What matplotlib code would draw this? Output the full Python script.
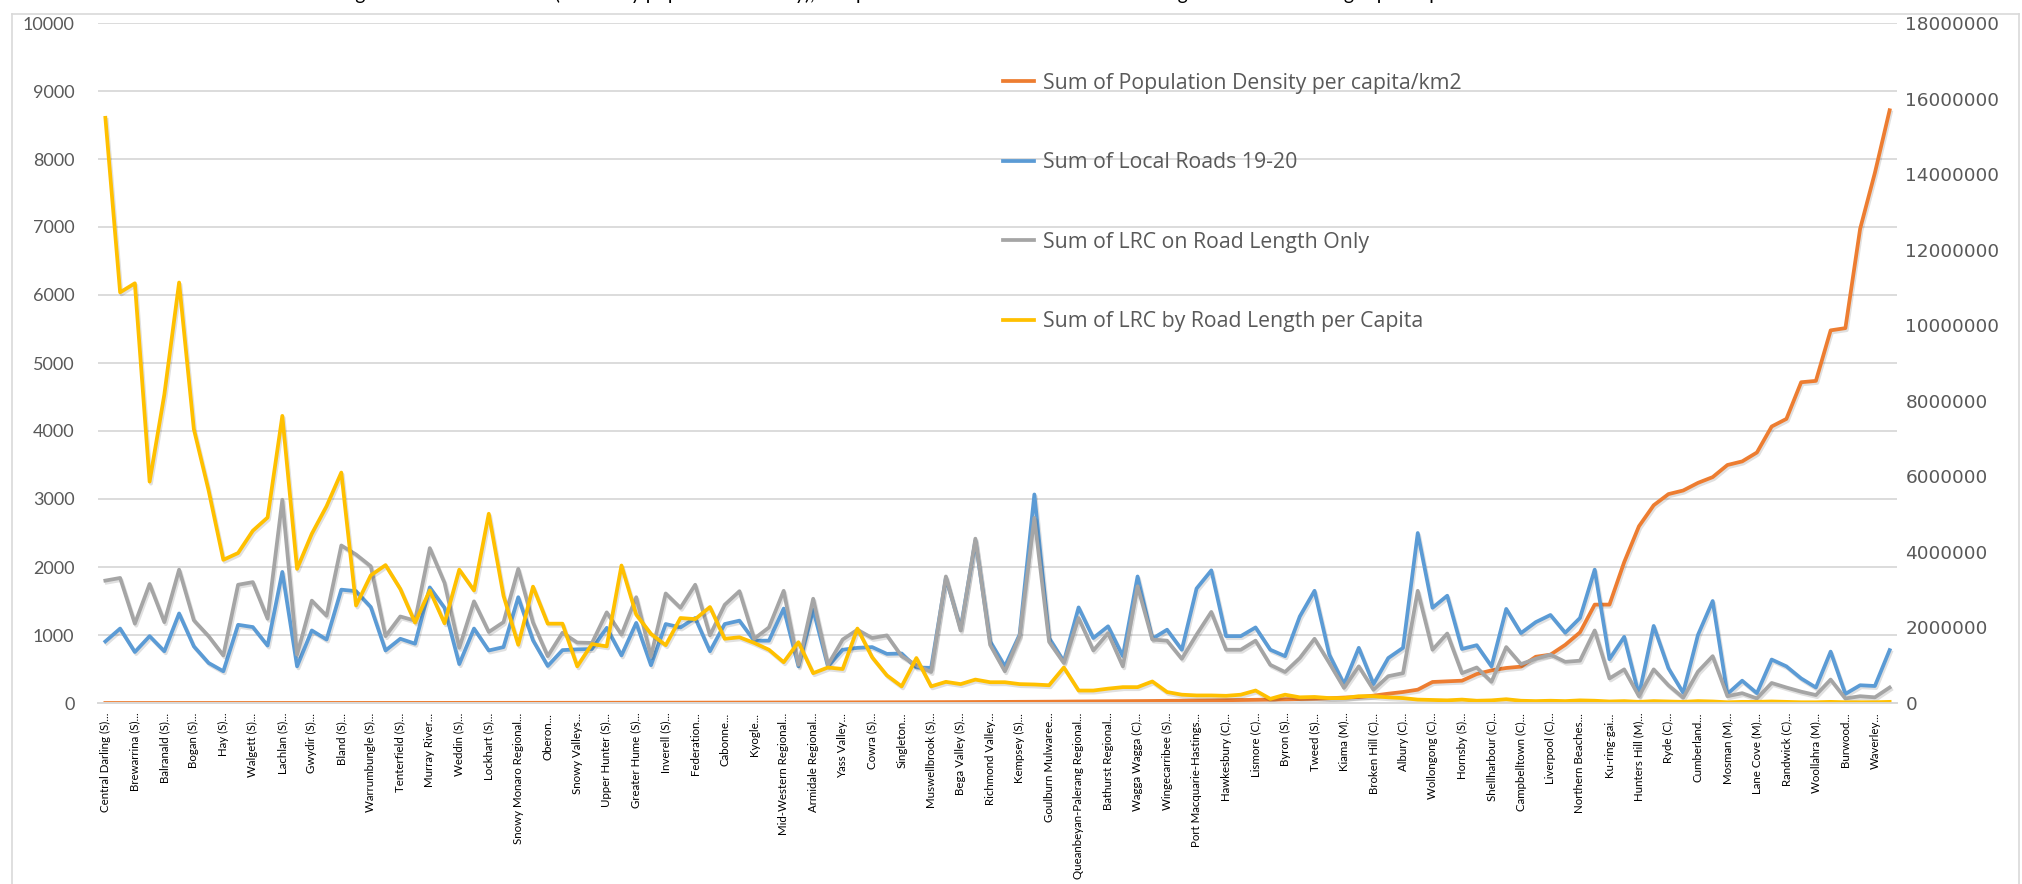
import numpy as np
import matplotlib.pyplot as plt
import matplotlib.patheffects as pe
from matplotlib.lines import Line2D

plt.rcParams['font.family'] = ['Lato', 'DejaVu Sans']

# councils shown on the category axis (every second council is labelled)
councils = ['Central Darling (S)...', 'Brewarrina (S)...', 'Balranald (S)...', 'Bogan (S)...', 'Hay (S)...',
            'Walgett (S)...', 'Lachlan (S)...', 'Gwydir (S)...', 'Bland (S)...', 'Warrumbungle (S)...',
            'Tenterfield (S)...', 'Murray River...', 'Weddin (S)...', 'Lockhart (S)...',
            'Snowy Monaro Regional...', 'Oberon...', 'Snowy Valleys...', 'Upper Hunter (S)...',
            'Greater Hume (S)...', 'Inverell (S)...', 'Federation...', 'Cabonne...', 'Kyogle...',
            'Mid-Western Regional...', 'Armidale Regional...', 'Yass Valley...', 'Cowra (S)...',
            'Singleton...', 'Muswellbrook (S)...', 'Bega Valley (S)...', 'Richmond Valley...',
            'Kempsey (S)...', 'Goulburn Mulwaree...', 'Queanbeyan-Palerang Regional...',
            'Bathurst Regional...', 'Wagga Wagga (C)...', 'Wingecarribee (S)...',
            'Port Macquarie-Hastings...', 'Hawkesbury (C)...', 'Lismore (C)...', 'Byron (S)...',
            'Tweed (S)...', 'Kiama (M)...', 'Broken Hill (C)...', 'Albury (C)...', 'Wollongong (C)...',
            'Hornsby (S)...', 'Shellharbour (C)...', 'Campbelltown (C)...', 'Liverpool (C)...',
            'Northern Beaches...', 'Ku-ring-gai...', 'Hunters Hill (M)...', 'Ryde (C)...',
            'Cumberland...', 'Mosman (M)...', 'Lane Cove (M)...', 'Randwick (C)...', 'Woollahra (M)...',
            'Burwood...', 'Waverley...']

# population density (per km2), primary axis
density = [0.03, 0.09, 0.11, 0.2, 0.26, 0.3, 0.38, 0.4, 0.46, 0.5, 0.59, 0.62, 0.69, 0.76, 0.84, 0.92, 1.0, 1.1,
           1.2, 1.3, 1.35, 1.5, 1.6, 1.7, 1.9, 2.0, 2.1, 2.3, 2.5, 2.6, 2.8, 3.0, 3.2, 3.4, 3.6, 3.9, 4.1, 4.4,
           4.7, 5.0, 5.3, 5.6, 6.0, 6.4, 6.8, 7.1, 7.5, 8.0, 8.4, 8.8, 9.2, 9.7, 10.2, 10.8, 11.3, 11.9, 12.6,
           13.2, 14.0, 14.8, 15.6, 16.5, 17.4, 18.3, 19.5, 21, 22.5, 24, 25.6, 27, 28.5, 30, 32, 34, 36, 38,
           41, 44, 47, 50, 54, 58, 63, 70, 80, 88, 108, 137, 162, 196, 309, 319, 328, 426, 480, 515, 535,
           680, 711, 855, 1039, 1447, 1447, 2072, 2599, 2908, 3072, 3125, 3237, 3322, 3500, 3553, 3684,
           4066, 4178, 4717, 4737, 5480, 5513, 6974, 7796, 8717]

# grant amounts in $ millions, secondary axis
local_roads = [1.63, 1.97, 1.35, 1.77, 1.37, 2.37, 1.50, 1.06, 0.84, 2.07, 2.01, 1.52, 3.47, 0.97, 1.92, 1.68,
               3.00, 2.96, 2.54, 1.39, 1.70, 1.57, 3.06, 2.52, 1.03, 1.97, 1.39, 1.48, 2.80, 1.66, 0.98, 1.40,
               1.42, 1.43, 1.99, 1.26, 2.12, 1.00, 2.09, 2.00, 2.25, 1.37, 2.09, 2.18, 1.65, 1.65, 2.50, 0.97,
               2.47, 0.97, 1.41, 1.46, 1.48, 1.30, 1.31, 0.94, 0.93, 3.31, 1.97, 4.30, 1.63, 0.97, 1.81, 5.52,
               1.72, 1.10, 2.53, 1.72, 2.03, 1.24, 3.35, 1.70, 1.94, 1.41, 3.03, 3.51, 1.77, 1.77, 2.00, 1.41,
               1.24, 2.29, 2.97, 1.28, 0.50, 1.46, 0.50, 1.19, 1.46, 4.50, 2.52, 2.84, 1.43, 1.53, 0.97, 2.49,
               1.85, 2.14, 2.33, 1.86, 2.25, 3.53, 1.16, 1.75, 0.21, 2.04, 0.92, 0.27, 1.80, 2.70, 0.24, 0.59,
               0.26, 1.15, 0.97, 0.65, 0.41, 1.36, 0.24, 0.47, 0.45, 1.40]
lrc_length = [3.24, 3.31, 2.10, 3.15, 2.14, 3.53, 2.19, 1.77, 1.26, 3.13, 3.20, 2.23, 5.38, 1.28, 2.71, 2.31,
              4.17, 3.93, 3.62, 1.77, 2.29, 2.18, 4.10, 3.18, 1.46, 2.69, 1.88, 2.14, 3.55, 2.13, 1.24, 1.86,
              1.60, 1.59, 2.40, 1.81, 2.80, 1.24, 2.90, 2.52, 3.13, 1.79, 2.60, 2.96, 1.70, 2.00, 2.97, 1.01,
              2.76, 1.01, 1.68, 1.94, 1.72, 1.79, 1.24, 1.00, 0.82, 3.35, 1.92, 4.35, 1.54, 0.84, 1.77, 4.90,
              1.62, 1.06, 2.25, 1.39, 1.85, 0.97, 3.09, 1.68, 1.65, 1.17, 1.81, 2.41, 1.41, 1.41, 1.65, 1.01,
              0.82, 1.19, 1.70, 1.06, 0.40, 0.97, 0.35, 0.71, 0.79, 2.97, 1.41, 1.84, 0.79, 0.94, 0.56, 1.48,
              1.03, 1.17, 1.28, 1.09, 1.12, 1.92, 0.65, 0.89, 0.18, 0.89, 0.47, 0.14, 0.83, 1.24, 0.18, 0.26,
              0.12, 0.53, 0.41, 0.30, 0.21, 0.62, 0.12, 0.18, 0.15, 0.41]
lrc_per_capita = [15.49, 10.87, 11.11, 5.86, 8.17, 11.13, 7.25, 5.63, 3.79, 3.97, 4.56, 4.91, 7.60, 3.55, 4.48,
                  5.21, 6.10, 2.58, 3.38, 3.65, 3.02, 2.13, 2.98, 2.11, 3.53, 2.98, 5.01, 2.84, 1.54, 3.08,
                  2.10, 2.10, 0.97, 1.56, 1.50, 3.64, 2.34, 1.83, 1.53, 2.25, 2.22, 2.54, 1.70, 1.74, 1.59,
                  1.41, 1.08, 1.61, 0.79, 0.94, 0.90, 1.97, 1.21, 0.73, 0.44, 1.19, 0.44, 0.56, 0.50, 0.62,
                  0.55, 0.55, 0.50, 0.49, 0.47, 0.94, 0.33, 0.33, 0.38, 0.42, 0.42, 0.57, 0.29, 0.22, 0.20,
                  0.20, 0.19, 0.22, 0.33, 0.11, 0.22, 0.15, 0.16, 0.13, 0.13, 0.18, 0.18, 0.15, 0.13, 0.09,
                  0.08, 0.07, 0.09, 0.06, 0.07, 0.10, 0.06, 0.05, 0.06, 0.05, 0.07, 0.06, 0.04, 0.05, 0.03,
                  0.05, 0.04, 0.03, 0.05, 0.04, 0.02, 0.03, 0.03, 0.04, 0.03, 0.02, 0.02, 0.03, 0.02, 0.02,
                  0.02, 0.03]

series_names = ['Sum of Population Density per capita/km2', 'Sum of Local Roads 19-20',
                'Sum of LRC on Road Length Only', 'Sum of LRC by Road Length per Capita']
colors = ['#ED7D31', '#5B9BD5', '#A5A5A5', '#FFC000']

title = 'Local roads grants for each council (sorted by population density), compared with LRC allocation on road length and on road length per capita'

n = len(density)
x = np.arange(n)
shadow = [pe.SimpleLineShadow(offset=(1, -1.5), shadow_color='black', alpha=0.12), pe.Normal()]

fig = plt.figure(figsize=(20.22, 8.84), dpi=100)
ax = fig.add_axes([98 / 2022, 1 - 703 / 884, 1799 / 2022, 680 / 884])
ax2 = ax.twinx()

ax.plot(x, density, color=colors[0], lw=2.7, solid_joinstyle='round', path_effects=shadow)
ax2.plot(x, np.array(local_roads) * 1e6, color=colors[1], lw=2.7, solid_joinstyle='round', path_effects=shadow)
ax2.plot(x, np.array(lrc_length) * 1e6, color=colors[2], lw=2.7, solid_joinstyle='round', path_effects=shadow)
ax2.plot(x, np.array(lrc_per_capita) * 1e6, color=colors[3], lw=2.7, solid_joinstyle='round', path_effects=shadow)

ax.set_xlim(-0.5, n - 0.5)
ax.set_ylim(0, 10000)
ax2.set_ylim(0, 18000000)
ax.set_yticks(np.arange(0, 10001, 1000))
ax2.set_yticks(np.arange(0, 18000001, 2000000))
ax2.set_yticklabels([str(v) for v in range(0, 18000001, 2000000)], family='DejaVu Sans')

ax.set_xticks(x[::2])
ax.set_xticklabels(councils, rotation=90, fontsize=8.3, color='black', va='top', ha='center')

ax.grid(axis='y', color='#D9D9D9', lw=1.3)
ax.set_axisbelow(True)
for a in (ax, ax2):
    for side in ['top', 'left', 'right']:
        a.spines[side].set_visible(False)
    a.spines['bottom'].set_color('#D9D9D9')
    a.spines['bottom'].set_linewidth(1.3)
ax.tick_params(axis='x', length=0, pad=7)
ax.tick_params(axis='y', length=0, pad=17, labelsize=13, labelcolor='#595959')
ax2.tick_params(axis='y', length=0, pad=6, labelsize=13.3, labelcolor='#595959')

handles = [Line2D([], [], color=c, lw=2.7) for c in colors]
ax2.legend(handles, series_names, loc='upper left', bbox_to_anchor=(0.503, 0.927), frameon=False,
           prop={'family': 'Open Sans', 'size': 15.3}, labelcolor='#595959', handlelength=1.45,
           handletextpad=0.45, labelspacing=2.75, borderpad=0, borderaxespad=0)

# chart area border and the title sitting above the top edge
top_border = 1 - 14 / 884
fig.add_artist(Line2D([12 / 2022, 12 / 2022], [0, top_border], color='#D9D9D9', lw=1.2))
fig.add_artist(Line2D([2019 / 2022, 2019 / 2022], [0, top_border], color='#D9D9D9', lw=1.2))
fig.add_artist(Line2D([12 / 2022, 2019 / 2022], [top_border, top_border], color='#D9D9D9', lw=1.2))
fig.text(0.424, 1.0, title, ha='center', va='baseline', fontsize=14, color='black')

fig.savefig('out.png', dpi=100)
